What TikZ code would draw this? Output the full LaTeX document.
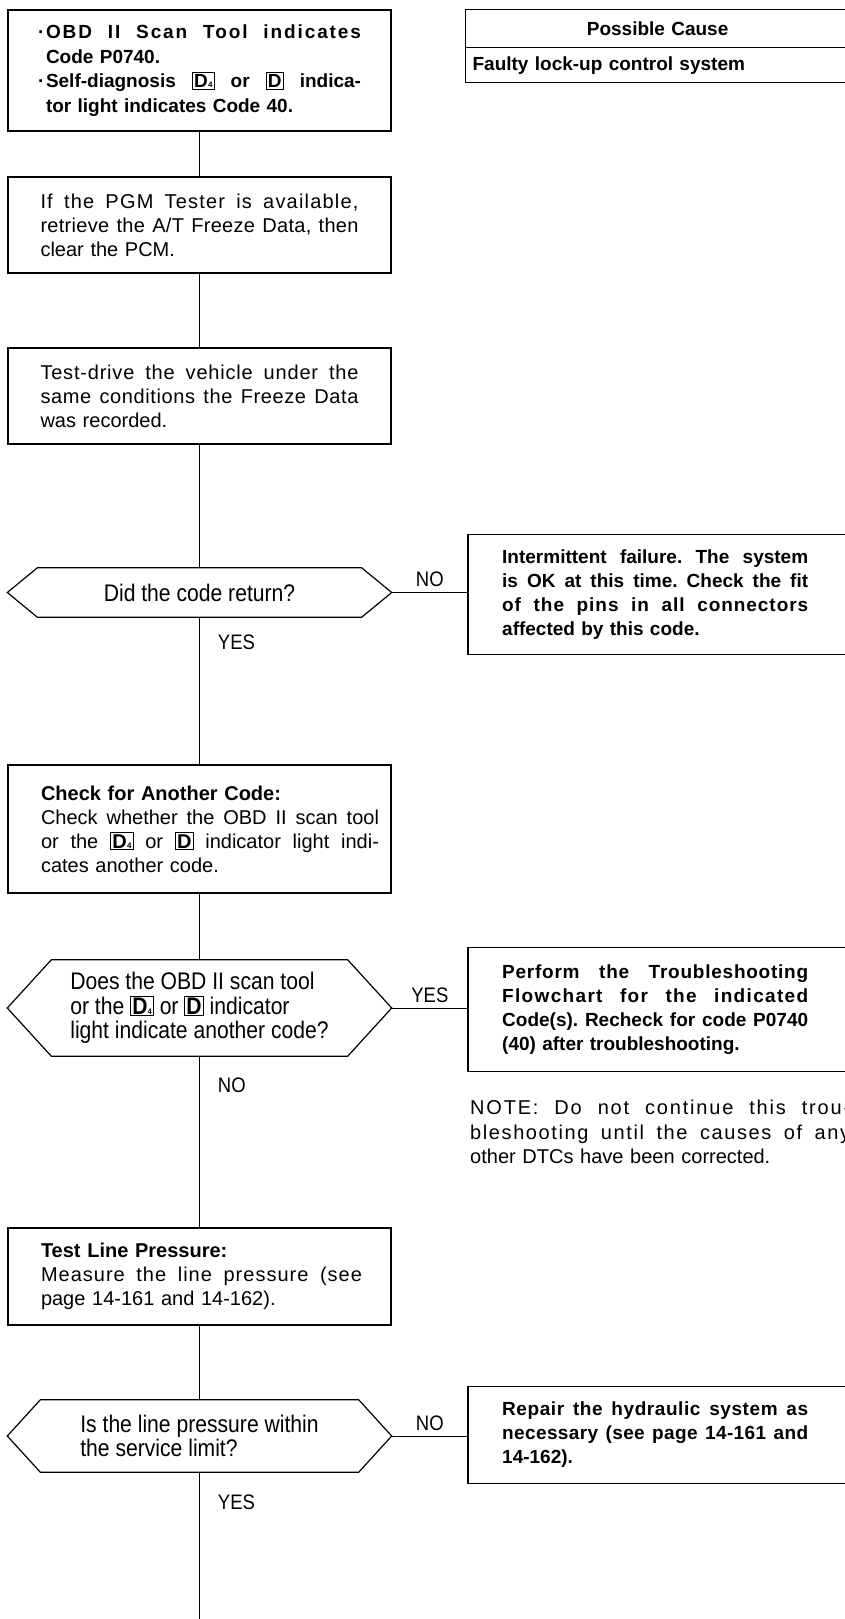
\documentclass[tikz,border=0pt]{standalone}
\usepackage{fontspec}
\setmainfont{Liberation Sans}
\newfontfamily\narrowfont[FakeStretch=0.88]{Liberation Sans}
\frenchspacing
\newcommand{\fillrow}[2][\hsize]{\leavevmode\hbox to #1{\spaceskip=0.28em plus 1fil\relax #2}}
\newcommand{\trackrow}[3][\hsize]{\leavevmode\hbox to #1{\addfontfeature{LetterSpace=#2}\spaceskip=0.28em plus 1fil\relax #3}}
\newcommand{\dfour}{{\setlength\fboxsep{1.2pt}\setlength\fboxrule{0.9pt}\fbox{\bfseries D\kern0.3pt{\fontsize{8}{8}\selectfont 4}}}}
\newcommand{\dlamp}{{\setlength\fboxsep{1.2pt}\setlength\fboxrule{0.9pt}\fbox{\bfseries D}}}

\begin{document}
\begin{tikzpicture}[x=1pt, y=-1pt,
    stepbox/.style={rectangle, draw=black, line width=1.2pt, minimum width=383pt, inner xsep=32.5pt, inner ysep=4pt, text width=318pt, align=left, font=\fontsize{20}{24}\selectfont},
    fixbox/.style={rectangle, anchor=west, inner xsep=34pt, text width=306pt, align=left, font=\bfseries\fontsize{19}{24}\selectfont},
    askbox/.style={rectangle, minimum width=384pt, inner sep=0pt, align=left, font=\narrowfont\fontsize{24}{24.5}\selectfont},
    cellbox/.style={rectangle, draw=black, line width=1.2pt, anchor=north west, text width=370pt, inner xsep=7pt, inner ysep=0pt, font=\bfseries\fontsize{19}{23}\selectfont},
    notetext/.style={anchor=north west, inner sep=0pt, text width=380pt, align=left, font=\fontsize{20}{24.5}\selectfont},
    lbl/.style={font=\narrowfont\fontsize{21}{21}\selectfont, inner sep=2pt},
    link/.style={draw=black, line width=0.9pt},
    boxline/.style={draw=black, line width=1.2pt}
]
    \useasboundingbox (0,0) rectangle (845,1619);

    % Possible cause table
    \node[cellbox, align=center, minimum height=38pt] (causehead) at (465,9) {Possible Cause};
    \node[cellbox, align=left, minimum height=35pt] (cause) at (465,47) {Faulty lock-up control system};

    % Trouble code
    \node[stepbox, text width=323pt, inner xsep=30pt, minimum height=121pt, font=\bfseries\fontsize{19}{24.5}\selectfont] (obd) at (199.5,70.5) {
        \makebox[8pt][l]{·}\trackrow[315pt]{10}{OBD II Scan Tool indicates}\\
        \hspace*{8pt}Code P0740.\\
        \makebox[8pt][l]{·}\fillrow[315pt]{Self-diagnosis \dfour{} or \dlamp{} indica-}\\
        \hspace*{8pt}tor light indicates Code 40.
    };

    % Freeze data
    \node[stepbox, minimum height=96pt] (pgm) at (199.5,225) {
        \trackrow{6}{If the PGM Tester is available,}\\
        \trackrow{1.5}{retrieve the A/T Freeze Data, then}\\
        clear the PCM.
    };

    % Test drive
    \node[stepbox, minimum height=96pt] (drive) at (199.5,396) {
        \trackrow{4}{Test-drive the vehicle under the}\\
        \trackrow{3}{same conditions the Freeze Data}\\
        was recorded.
    };

    % Code returned?
    \node[askbox, minimum height=49pt] (ret) at (199.5,592.5) {Did the code return?};
    \node[fixbox, minimum height=119pt] (intm) at (468,594.5) {
        \fillrow{Intermittent failure. The system}\\
        \fillrow{is OK at this time. Check the fit}\\
        \trackrow{5}{of the pins in all connectors}\\
        affected by this code.
    };

    % Another code
    \node[stepbox, inner xsep=33pt, text width=317pt, minimum height=128pt] (another) at (199.5,829) {
        \textbf{Check for Another Code:}\\
        \fillrow[338pt]{Check whether the OBD II scan tool}\\
        \fillrow[338pt]{or the \dfour{} or \dlamp{} indicator light indi-}\\
        cates another code.
    };

    \node[askbox, minimum height=96pt] (anyq) at (199.5,1008) {
        Does the OBD II scan tool\\
        or the \dfour{} or \dlamp{} indicator\\
        light indicate another code?
    };
    \node[fixbox, minimum height=123pt] (perform) at (468,1009.5) {
        \trackrow{4}{Perform the Troubleshooting}\\
        \trackrow{7}{Flowchart for the indicated}\\
        \fillrow{Code(s). Recheck for code P0740}\\
        (40) after troubleshooting.
    };
    \node[notetext] (note) at (470,1100) {
        \trackrow{9}{NOTE: Do not continue this trou-}\\
        \trackrow{8}{bleshooting until the causes of any}\\
        other DTCs have been corrected.
    };

    % Line pressure
    \node[stepbox, inner xsep=33pt, text width=317pt, minimum height=97pt] (press) at (199.5,1276.5) {
        \textbf{Test Line Pressure:}\\
        \trackrow[321pt]{5}{Measure the line pressure (see}\\
        page 14-161 and 14-162).
    };

    \node[askbox, minimum height=72pt] (lineq) at (199.5,1436) {
        Is the line pressure within\\
        the service limit?
    };
    \node[fixbox, minimum height=96pt] (repair) at (468,1435) {
        \trackrow{3}{Repair the hydraulic system as}\\
        \trackrow{2}{necessary (see page 14-161 and}\\
        14-162).
    };

    % Outlines: hexagons, and boxes running off the page
    \foreach \q/\d in {ret/30, anyq/44, lineq/33}
        \draw[boxline] (\q.west) -- ([xshift=\d]\q.north west) -- ([xshift=-\d]\q.north east) -- (\q.east)
            -- ([xshift=-\d]\q.south east) -- ([xshift=\d]\q.south west) -- cycle;
    \foreach \b in {intm, perform, repair}
        \draw[boxline] ([xshift=60]\b.north east) -- (\b.north west) -- (\b.south west) -- ([xshift=60]\b.south east);

    % Connectors
    \coordinate (tail) at (199.5,1630);
    \draw[link] (obd) -- (pgm);
    \draw[link] (pgm) -- (drive);
    \draw[link] (drive) -- (ret);
    \draw[link] (ret.east) -- node[lbl, above=3pt] (no1) {NO} (ret.east -| intm.west);
    \draw[link] (ret) -- node[lbl, pos=0.17, right=16pt] (yes1) {YES} (another);
    \draw[link] (another) -- (anyq);
    \draw[link] (anyq.east) -- node[lbl, above=3pt] (yes2) {YES} (anyq.east -| perform.west);
    \draw[link] (anyq) -- node[lbl, pos=0.17, right=16pt] (no2) {NO} (press);
    \draw[link] (press) -- (lineq);
    \draw[link] (lineq.east) -- node[lbl, above=3pt] (no3) {NO} (lineq.east -| repair.west);
    \draw[link] (lineq) -- node[lbl, pos=0.19, right=16pt] (yes3) {YES} (tail);
\end{tikzpicture}
\end{document}
